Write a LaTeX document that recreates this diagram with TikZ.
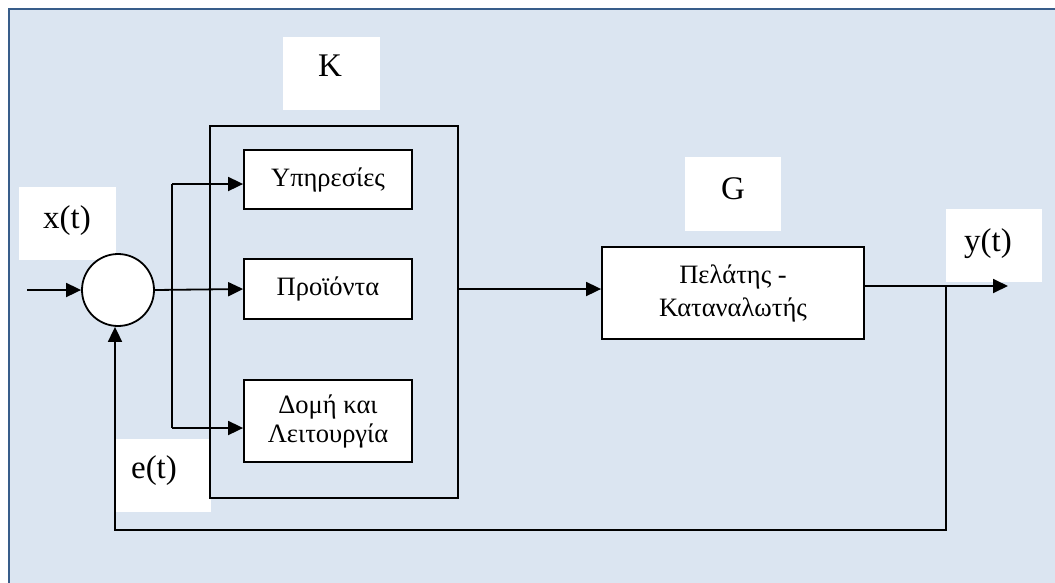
\documentclass[tikz,border=0pt]{standalone}
\usepackage{fontspec}
\setmainfont{Liberation Serif}
\usetikzlibrary{arrows.meta}
\definecolor{panelfill}{HTML}{DBE5F1}
\definecolor{panelline}{HTML}{385D8A}
\begin{document}
\begin{tikzpicture}[x=1pt,y=-1pt,
  blk/.style={draw=black,line width=1.8pt,fill=white,inner sep=0pt,align=center,
    font=\fontsize{26.5}{29}\selectfont},
  lblbg/.style={fill=white,draw=none},
  lbl/.style={inner sep=0pt,font=\fontsize{33}{36}\selectfont},
  conn/.style={line width=1.8pt},
  arr/.style={conn,-{Triangle[length=15pt,width=14pt]}}]
\useasboundingbox (0,0) rectangle (1055,582);
% panel
\draw[fill=panelfill,draw=panelline,line width=2.5pt] (9,9) rectangle (1080,610);
% white label boxes
\fill[lblbg] (283,37) rectangle (380,110);
\node[lbl] (Klbl) at (330,66) {K};
\fill[lblbg] (685,157) rectangle (781,231);
\node[lbl] (Glbl) at (733,189) {G};
\fill[lblbg] (946,209) rectangle (1042,282);
\node[lbl] (ylbl) at (988,244) {y(t)};
\fill[lblbg] (19,187) rectangle (116,260);
\node[lbl] (xlbl) at (67,221) {x(t)};
\fill[lblbg] (114,439) rectangle (211,512);
\node[lbl] (elbl) at (154,471) {e(t)};
% blocks
\node[draw=black,line width=1.8pt,minimum width=248pt,minimum height=372pt,inner sep=0pt] (K) at (334,312) {};
\node[blk,minimum width=168pt,minimum height=59pt] (Yp) at (328,179.5) {Υπηρεσίες};
\node[blk,minimum width=168pt,minimum height=60pt] (Pr) at (328,289) {Προϊόντα};
\node[blk,minimum width=168pt,minimum height=82pt,font=\fontsize{26.5}{29}\selectfont] (Do) at (328,421) {Δομή και\\Λειτουργία};
\node[blk,minimum width=262pt,minimum height=92pt,font=\fontsize{26.5}{33}\selectfont] (G) at (733,293) {Πελάτης -\\Καταναλωτής};
\node[circle,draw=black,line width=1.8pt,fill=white,minimum size=72pt,inner sep=0pt] (sum) at (118,290) {};
% coordinates
\coordinate (in) at (27,290);
\coordinate (b1) at (172,184);
\coordinate (b3) at (172,428);
\coordinate (j) at (946,286);
\coordinate (yout) at (1008,286);
\coordinate (fbr) at (946,530);
\coordinate (fbl) at (115,530);
% connectors
\draw[arr] (in) -- (sum.west);
\draw[arr] (sum.east) -- (Pr.west);
\draw[conn] (b1) -- (b3);
\draw[arr] (b1) -- (b1 -| Yp.west);
\draw[arr] (b3) -- (b3 -| Do.west);
\draw[arr] (Pr.east -| K.east) -- (Pr.east -| G.west);
\draw[arr] (G.east |- j) -- (yout);
\draw[arr] (j) -- (fbr) -- (fbl) -- (fbl |- sum.south);
\end{tikzpicture}
\end{document}
